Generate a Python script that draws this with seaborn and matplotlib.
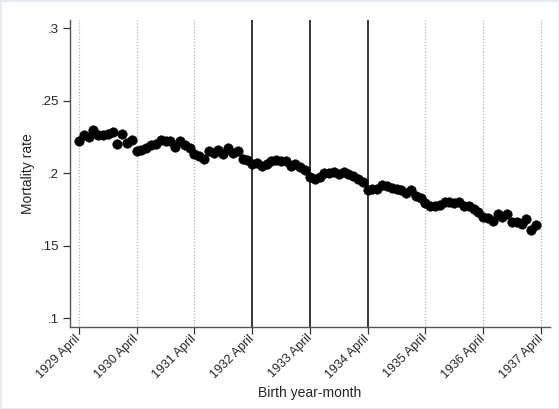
import matplotlib
matplotlib.use("Agg")
import matplotlib.pyplot as plt
import numpy as np
import pandas as pd
import seaborn as sns

## data ##
start_year = 1929
tick_years = [1929, 1930, 1931, 1932, 1933, 1934, 1935, 1936, 1937]
tick_labels = [f"{y} April" for y in tick_years]
solid_years = [1932, 1933, 1934]

# monthly mortality rate, April 1929 .. March 1937
rate_1929 = [.222, .226, .225, .230, .226, .226, .227, .228, .220, .227, .221, .223]
rate_1930 = [.215, .216, .217, .219, .220, .223, .222, .222, .218, .222, .219, .217]
rate_1931 = [.213, .212, .210, .215, .214, .216, .213, .217, .214, .215, .210, .209]
rate_1932 = [.206, .207, .205, .206, .208, .209, .208, .208, .205, .206, .204, .202]
rate_1933 = [.197, .196, .197, .200, .200, .201, .199, .201, .199, .198, .196, .194]
rate_1934 = [.188, .189, .189, .192, .191, .190, .189, .188, .186, .188, .184, .183]
rate_1935 = [.179, .177, .177, .178, .180, .180, .179, .180, .177, .177, .175, .173]
rate_1936 = [.170, .169, .167, .172, .170, .172, .166, .166, .165, .168, .161, .164]

rates = rate_1929 + rate_1930 + rate_1931 + rate_1932 + rate_1933 + rate_1934 + rate_1935 + rate_1936
df = pd.DataFrame({"month": np.arange(len(rates)), "rate": rates})

## plot ##
sns.set_style("white")
plt.rcParams['font.family'] = ['Liberation Sans', 'DejaVu Sans']

fig = plt.figure(figsize=(5.59, 4.09), dpi=100)
ax = fig.add_axes([0.125, 0.2005, 0.859, 0.7505])

for y in tick_years:
    xpos = (y - start_year) * 12
    if y in solid_years:
        ax.axvline(xpos, color='black', linewidth=1.1, zorder=1)
    else:
        ax.axvline(xpos, color='#b0b0b0', linewidth=0.9, linestyle=(0, (1, 1.5)), zorder=1)

sns.scatterplot(data=df, x="month", y="rate", ax=ax, color='black', s=48,
                edgecolor='black', linewidth=0.3, zorder=3, legend=False)

ax.set_xlim(-1.87, 97.9)
ax.set_ylim(0.0938, 0.3055)
ax.set_yticks([.1, .15, .2, .25, .3])
ax.set_yticklabels(['.1', '.15', '.2', '.25', '.3'])
ax.set_xticks([(y - start_year) * 12 for y in tick_years])
ax.set_xticklabels(tick_labels, rotation=45, ha='right', va='center', rotation_mode='anchor')

for s in ['top', 'right']:
    ax.spines[s].set_visible(False)
for s in ['left', 'bottom']:
    ax.spines[s].set_color('#555555')
    ax.spines[s].set_linewidth(1.0)
ax.tick_params(axis='both', direction='out', length=5, width=0.9, color='#333333',
               labelsize=9.5, left=True, bottom=True, pad=3)
ax.tick_params(axis='x', labelsize=9, pad=2)

ax.set_xlabel('Birth year-month', fontsize=10, labelpad=4)
ax.set_ylabel('Mortality rate', fontsize=10, labelpad=4)

fig.patch.set_edgecolor('#e6ebef')
fig.patch.set_linewidth(2)

plt.savefig('out.png', dpi=100)
plt.close()
